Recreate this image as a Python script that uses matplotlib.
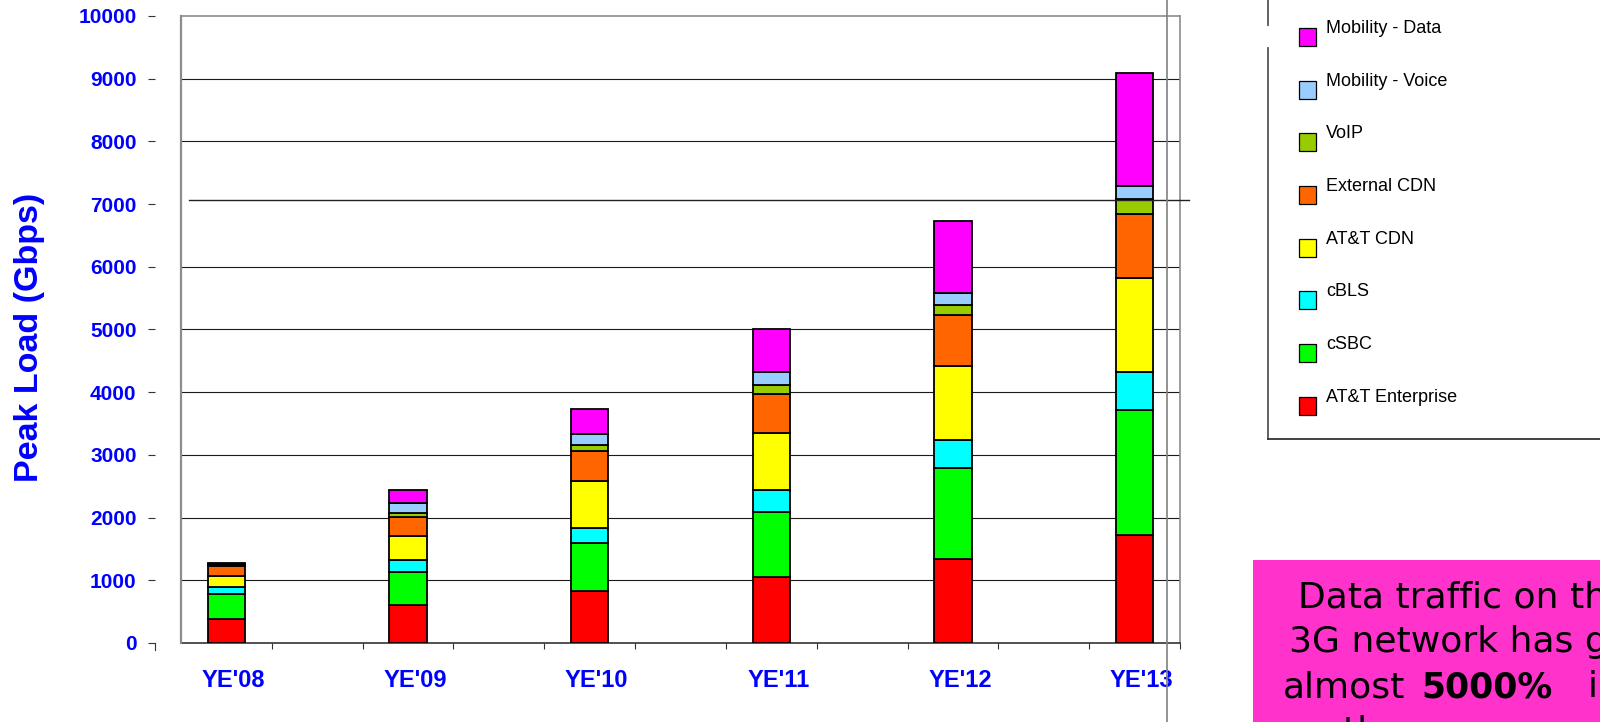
import matplotlib
matplotlib.use("Agg")
import matplotlib.pyplot as plt
from matplotlib.lines import Line2D
from matplotlib.patches import Rectangle
from matplotlib.transforms import ScaledTranslation

# categories and stacked series (bottom to top), values in Gbps
years = ["YE'08", "YE'09", "YE'10", "YE'11", "YE'12", "YE'13"]
series_names = ["AT&T Enterprise", "cSBC", "cBLS", "AT&T CDN",
                "External CDN", "VoIP", "Mobility - Voice", "Mobility - Data"]
enterprise = [380, 600, 825, 1050, 1345, 1715]
csbc = [400, 530, 770, 1045, 1445, 2005]
cbls = [120, 190, 240, 340, 445, 600]
att_cdn = [175, 390, 745, 920, 1175, 1505]
ext_cdn = [155, 300, 485, 610, 815, 1020]
voip = [12, 60, 85, 150, 165, 235]
mob_voice = [12, 155, 185, 210, 195, 205]
mob_data = [14, 220, 395, 690, 1140, 1800]
series_values = [enterprise, csbc, cbls, att_cdn, ext_cdn, voip, mob_voice, mob_data]
colors = ["#FF0000", "#00FF00", "#00FFFF", "#FFFF00",
          "#FF6600", "#99CC00", "#99CCFF", "#FF00FF"]

yticks = list(range(0, 10001, 1000))

W, H = 1600, 722
BLUE = "#0000FF"


def fx(x):
    return x / W


def fy(y):
    return 1 - y / H


fig = plt.figure(figsize=(16, 7.22), dpi=100)
fig.patch.set_facecolor("white")

# plot area: px 181..1180 wide, 16..643 tall
ax = fig.add_axes([fx(181), fy(643), (1180 - 181) / W, (643 - 16) / H])

# bars sit on every other slot of an 11-slot category axis
xpos = [2 * i for i in range(len(years))]
bottom = [0] * len(years)
for vals, col in zip(series_values, colors):
    ax.bar(xpos, vals, width=0.41, bottom=bottom, color=col,
           edgecolor="black", linewidth=1.3, zorder=3)
    bottom = [b + v for b, v in zip(bottom, vals)]

ax.set_xlim(-0.5, 10.5)
ax.set_ylim(0, 10000)

# gridlines (the 7000 one is covered by a stray slide line below)
for t in yticks[1:-1]:
    if t == 7000:
        continue
    ax.axhline(t, color="#1a1a1a", linewidth=0.8, zorder=1)

# frame
for side in ["top", "right"]:
    ax.spines[side].set_color("#8c8c8c")
    ax.spines[side].set_linewidth(1.2)
ax.spines["bottom"].set_color("#333333")
ax.spines["bottom"].set_linewidth(1.2)
ax.spines["left"].set_visible(False)
ax.add_line(Line2D([-0.5, -0.5], [0, 10000], color="#8c8c8c", linewidth=1.6,
                   clip_on=False, zorder=4))

# detached y-axis ticks
ax.spines["left"].set_position(("outward", 19))
ax.set_yticks(yticks)
ax.set_yticklabels([str(t) for t in yticks])
ax.tick_params(axis="y", direction="out", length=5, width=0.8, color="#333333",
               pad=8, labelsize=15, labelcolor=BLUE)
for lab in ax.get_yticklabels():
    lab.set_fontfamily("Liberation Sans")
    lab.set_fontweight("bold")

# x labels at bars, small ticks at slot boundaries
ax.set_xticks(xpos)
ax.set_xticklabels(years)
ax.set_xticks([k + 0.5 for k in range(0, 11)], minor=True)
ax.tick_params(axis="x", which="major", length=0, pad=19, labelsize=17,
               labelcolor=BLUE)
ax.tick_params(axis="x", which="minor", direction="out", length=4.5,
               width=0.8, color="#333333")
shift = ScaledTranslation(7 / 100, 0, fig.dpi_scale_trans)
for lab in ax.get_xticklabels():
    lab.set_fontfamily("Liberation Sans")
    lab.set_fontweight("bold")
    lab.set_transform(lab.get_transform() + shift)

fig.text(fx(30), fy(337), "Peak Load (Gbps)", rotation=90, ha="center",
         va="center", fontsize=24.5, fontweight="bold", color=BLUE,
         family="Liberation Sans")

# small corner mark at the zero tick
fig.add_artist(Line2D([fx(155), fx(155)], [fy(643), fy(650)],
                      color="#333333", linewidth=0.8))

# stray slide lines
fig.add_artist(Line2D([fx(189), fx(1189)], [fy(200), fy(200)],
                      color="#222222", linewidth=1.0, zorder=5))
fig.add_artist(Line2D([fx(1167), fx(1167)], [0, 1],
                      color="#808080", linewidth=1.2, zorder=5))

# legend drawn by hand (box runs off the image)
fig.add_artist(Line2D([fx(1268), fx(1268)], [fy(0), fy(25)],
                      color="#555555", linewidth=1.3))
fig.add_artist(Line2D([fx(1268), fx(1268)], [fy(48), fy(439)],
                      color="#555555", linewidth=1.3))
fig.add_artist(Line2D([fx(1268), fx(1600)], [fy(439), fy(439)],
                      color="#333333", linewidth=1.3))
legend_order = list(range(len(series_names)))[::-1]
for i, k in enumerate(legend_order):
    cy = 37 + 52.7 * i
    fig.add_artist(Rectangle((fx(1299), fy(cy + 9)), 17 / W, 18 / H,
                             transform=fig.transFigure, facecolor=colors[k],
                             edgecolor="black", linewidth=0.9))
    fig.text(fx(1326), fy(cy - 4), series_names[k], ha="left", va="baseline",
             fontsize=13, color="black", family="Liberation Sans")

# pink call-out box
fig.add_artist(Rectangle((fx(1253), 0), (W - 1253) / W, (H - 560) / H,
                         transform=fig.transFigure, facecolor="#FF33CC",
                         edgecolor="none"))
box_font = dict(fontsize=26, color="black", family="DejaVu Sans",
                va="baseline", ha="left")
fig.text(fx(1298), fy(607), "Data traffic on the", **box_font)
fig.text(fx(1289), fy(652), "3G network has grown", **box_font)
fig.text(fx(1283), fy(697), "almost", **box_font)
fig.text(fx(1421), fy(697), "5000%", fontweight="bold", fontsize=25,
         color="black", family="DejaVu Sans", va="baseline", ha="left")
fig.text(fx(1588), fy(697), "in", **box_font)
fig.text(fx(1343), fy(742), "three years", **box_font)

fig.savefig("out.png", dpi=100)
